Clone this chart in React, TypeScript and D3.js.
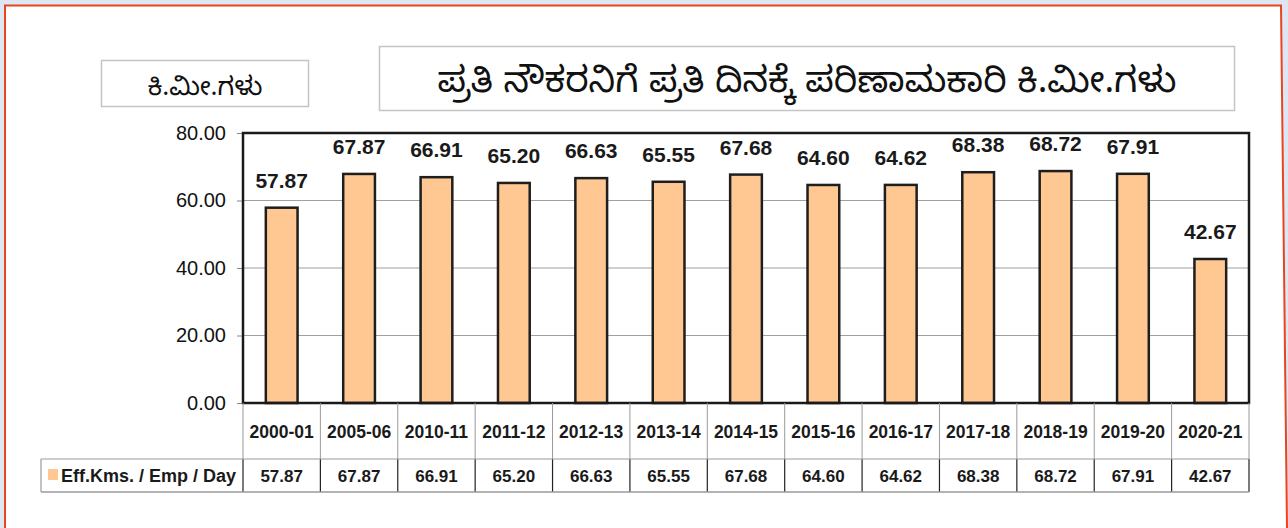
import React, { useEffect, useRef } from "react";
import * as d3 from "d3";

// chart data
const years = [
  "2000-01", "2005-06", "2010-11", "2011-12", "2012-13", "2013-14", "2014-15",
  "2015-16", "2016-17", "2017-18", "2018-19", "2019-20", "2020-21",
];
const effKms = [57.87, 67.87, 66.91, 65.2, 66.63, 65.55, 67.68, 64.6, 64.62, 68.38, 68.72, 67.91, 42.67];
const yTicks = [0, 20, 40, 60, 80];
const seriesName = "Eff.Kms. / Emp / Day";
const unitLabel = "ಕಿ.ಮೀ.ಗಳು";
const title = "ಪ್ರತಿ ನೌಕರನಿಗೆ ಪ್ರತಿ ದಿನಕ್ಕೆ ಪರಿಣಾಮಕಾರಿ ಕಿ.ಮೀ.ಗಳು";

const W = 1288;
const H = 528;
const LATIN = "'Liberation Sans', Arial, sans-serif";
const KANNADA = "'Noto Sans Kannada', 'Noto Sans', sans-serif";

const App = () => {
  const ref = useRef<SVGSVGElement>(null);

  useEffect(() => {
    const svg = d3.select(ref.current);
    svg.selectAll("*").remove();

    const plot = { left: 243, right: 1249, top: 133, bottom: 403 };
    const row1 = 459;
    const row2 = 492;
    const legendLeft = 41;

    // page frame
    svg.append("rect").attr("width", W).attr("height", H).attr("fill", "#dde7f3");
    svg.append("path")
      .attr("d", `M5,${H} L5,5.5 L1281,5.5 L1287,${H}`)
      .attr("fill", "#fff")
      .attr("stroke", "#e8451f")
      .attr("stroke-width", 2);

    const x = d3.scaleBand().domain(years).range([plot.left, plot.right]).paddingInner(0).paddingOuter(0);
    const y = d3.scaleLinear().domain([0, 80]).range([plot.bottom, plot.top]);
    const barW = x.bandwidth() * 0.41;

    // grid lines
    svg.append("g")
      .selectAll("line")
      .data(yTicks.filter((t) => t > 0 && t < 80))
      .join("line")
      .attr("x1", plot.left)
      .attr("x2", plot.right)
      .attr("y1", (d) => y(d))
      .attr("y2", (d) => y(d))
      .attr("stroke", "#a0a0a0")
      .attr("stroke-width", 1.2);

    // y axis ticks + labels
    const yAxis = svg.append("g").attr("transform", `translate(${plot.left},0)`)
      .call(d3.axisLeft(y).tickValues(yTicks).tickSize(6).tickPadding(11).tickFormat(d3.format(".2f")));
    yAxis.select(".domain").remove();
    yAxis.selectAll("line").attr("stroke", "#888");
    yAxis.selectAll("text")
      .attr("font-family", LATIN)
      .attr("font-size", 20)
      .attr("fill", "#111");

    // bars
    svg.append("g")
      .selectAll("rect")
      .data(effKms)
      .join("rect")
      .attr("x", (d, i) => x(years[i])! + (x.bandwidth() - barW) / 2)
      .attr("y", (d) => y(d))
      .attr("width", barW)
      .attr("height", (d) => y(0) - y(d))
      .attr("fill", "#ffc892")
      .attr("stroke", "#1e1e1e")
      .attr("stroke-width", 2.5);

    // value labels
    svg.append("g")
      .selectAll("text")
      .data(effKms)
      .join("text")
      .attr("x", (d, i) => x(years[i])! + x.bandwidth() / 2)
      .attr("y", (d) => y(d) - 20)
      .attr("text-anchor", "middle")
      .attr("font-family", LATIN)
      .attr("font-weight", "bold")
      .attr("font-size", 21)
      .attr("fill", "#1a1a1a")
      .text((d) => d.toFixed(2));

    // plot frame
    svg.append("rect")
      .attr("x", plot.left)
      .attr("y", plot.top)
      .attr("width", plot.right - plot.left)
      .attr("height", plot.bottom - plot.top)
      .attr("fill", "none")
      .attr("stroke", "#1a1a1a")
      .attr("stroke-width", 2.5);

    // data table
    const table = svg.append("g");
    const edges = years.map((yr) => x(yr)!).concat([plot.right]);
    table.selectAll("line.v1")
      .data(edges)
      .join("line")
      .attr("x1", (d) => d).attr("x2", (d) => d)
      .attr("y1", plot.bottom).attr("y2", row1)
      .attr("stroke", "#9a9a9a").attr("stroke-width", 1);
    table.selectAll("line.v2")
      .data(edges)
      .join("line")
      .attr("x1", (d) => d).attr("x2", (d) => d)
      .attr("y1", row1).attr("y2", row2)
      .attr("stroke", "#222").attr("stroke-width", 1.2);
    table.append("line")
      .attr("x1", legendLeft).attr("x2", plot.right)
      .attr("y1", row1).attr("y2", row1)
      .attr("stroke", "#9a9a9a").attr("stroke-width", 1.2);
    table.append("line")
      .attr("x1", legendLeft).attr("x2", plot.right)
      .attr("y1", row2).attr("y2", row2)
      .attr("stroke", "#9a9a9a").attr("stroke-width", 1.5);
    table.append("line")
      .attr("x1", legendLeft).attr("x2", legendLeft)
      .attr("y1", row1).attr("y2", row2)
      .attr("stroke", "#9a9a9a").attr("stroke-width", 1.2);

    table.selectAll("text.cat")
      .data(years)
      .join("text")
      .attr("x", (d) => x(d)! + x.bandwidth() / 2)
      .attr("y", 438)
      .attr("text-anchor", "middle")
      .attr("font-family", LATIN)
      .attr("font-weight", "bold")
      .attr("font-size", 17.5)
      .attr("fill", "#1a1a1a")
      .text((d) => d);

    table.selectAll("text.val")
      .data(effKms)
      .join("text")
      .attr("x", (d, i) => x(years[i])! + x.bandwidth() / 2)
      .attr("y", 482)
      .attr("text-anchor", "middle")
      .attr("font-family", LATIN)
      .attr("font-weight", "bold")
      .attr("font-size", 17)
      .attr("fill", "#1a1a1a")
      .text((d) => d.toFixed(2));

    table.append("rect")
      .attr("x", 48).attr("y", 469).attr("width", 10).attr("height", 11)
      .attr("fill", "#ffc892");
    table.append("text")
      .attr("x", 61).attr("y", 482)
      .attr("font-family", LATIN)
      .attr("font-weight", "bold")
      .attr("font-size", 18)
      .attr("fill", "#1a1a1a")
      .text(seriesName);

    // unit box
    svg.append("rect")
      .attr("x", 101.5).attr("y", 60.5).attr("width", 207).attr("height", 46)
      .attr("fill", "#fff").attr("stroke", "#c4c4c4").attr("stroke-width", 1.5);
    svg.append("text")
      .attr("x", 205).attr("y", 95)
      .attr("text-anchor", "middle")
      .attr("font-family", KANNADA)
      .attr("font-size", 26)
      .attr("fill", "#111")
      .text(unitLabel);

    // title box
    svg.append("rect")
      .attr("x", 379.5).attr("y", 46.5).attr("width", 855).attr("height", 64)
      .attr("fill", "#fff").attr("stroke", "#c4c4c4").attr("stroke-width", 1.5);
    svg.append("text")
      .attr("x", 807).attr("y", 92)
      .attr("text-anchor", "middle")
      .attr("font-family", KANNADA)
      .attr("font-size", 36)
      .attr("fill", "#111")
      .text(title);
  }, []);

  return (
    <div style={{ position: "fixed", left: 0, top: 0 }}>
      <svg ref={ref} width={W} height={H} style={{ display: "block" }} />
    </div>
  );
};

export default App;
